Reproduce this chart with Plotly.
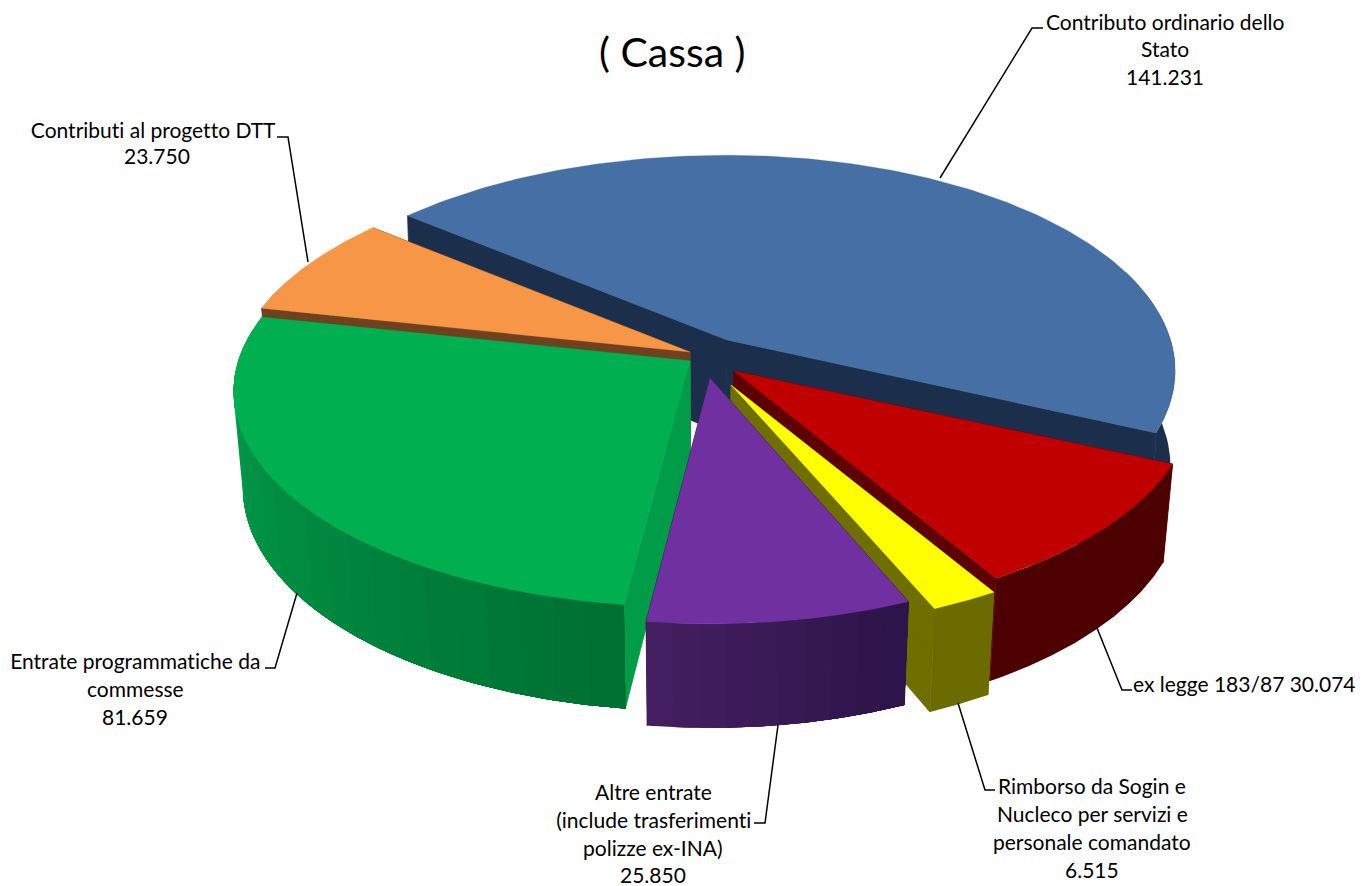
import numpy as np
import plotly.graph_objects as go

# ---- data ----
categories = ["Contributo ordinario dello Stato", "ex legge 183/87", "Rimborso da Sogin e Nucleco per servizi e personale comandato",
              "Altre entrate (include trasferimenti polizze ex-INA)", "Entrate programmatiche da commesse", "Contributi al progetto DTT"]
values = [141231, 30074, 6515, 25850, 81659, 23750]
top_colors = ["#466FA6", "#C00000", "#FFFF00", "#7030A0", "#00B050", "#F79646"]
wall_left = ["#1B2F4D", "#4D0000", "#6B6B00", "#431E60", "#00A04C", "#6F4120"]
wall_right = ["#1B2F4D", "#4D0000", "#6B6B00", "#2B1348", "#006E31", "#6F4120"]
face_colors = ["#1B2F4D", "#5E0000", "#6F6F00", "#2B1348", "#009C48", "#6F4120"]
strips = [1, 1, 1, 10, 24, 1]
apex_x = [727, 734, 731, 710, 690, 690]
apex_y = [340, 371, 385, 378, 361, 352]
rx_right = [0.975, 0.997, 1.0, 0.975, 1.0, 1.0]
rx_left = [1.0, 1.0, 1.0, 0.96, 0.993, 0.993]
bottom_scale = [0.99, 0.98, 0.98, 0.98, 0.98, 0.98]
draw_order = [0, 5, 1, 2, 4, 3]

# ---- projection parameters ----
START_DEG = -50.0
RX, AY, B = 455.0, 211.0, 0.142
CX = 700.0


def top_pt(i, th):
    s, c = np.sin(th), np.cos(th)
    d = 1 + B * c
    k = np.where(s > 0, rx_right[i], rx_left[i])
    return apex_x[i] + k * RX * s / d, apex_y[i] - AY * c / d


def lower(i, x, y, c):
    return CX + (x - CX) * bottom_scale[i], y + 95 - 9 * c


def mix(a, b, t):
    ca = [int(a[k:k + 2], 16) for k in (1, 3, 5)]
    cb = [int(b[k:k + 2], 16) for k in (1, 3, 5)]
    return "#%02X%02X%02X" % tuple(round(p + (q - p) * t) for p, q in zip(ca, cb))


fig = go.Figure()


def poly(xs, ys, color, width=0.8):
    fig.add_trace(go.Scatter(x=list(xs), y=list(ys), mode="lines", fill="toself", fillcolor=color,
                             line=dict(color=color, width=width), hoverinfo="skip", showlegend=False))


total = sum(values)
edges = np.radians(START_DEG + np.concatenate([[0], np.cumsum(values)]) / total * 360)

for i in draw_order:
    t0, t1 = edges[i], edges[i + 1]
    ax, ay = apex_x[i], apex_y[i]
    bx, by = lower(i, ax, ay, 0)
    # radial faces
    for th in (t1, t0):
        x, y = top_pt(i, th)
        xb, yb = lower(i, x, y, np.cos(th))
        poly([ax, x, xb, bx, ax], [ay, y, yb, by, ay], face_colors[i])
    # outer wall: each band runs to the slice's far end, the next band paints over it (no seams)
    bounds = np.linspace(t1, t0, strips[i] + 1)
    for k in range(strips[i]):
        th = np.linspace(bounds[k], t0, 120)
        th = th[np.cos(th) < 0.35]
        if len(th) < 2:
            continue
        xt, yt = top_pt(i, th)
        xb, yb = lower(i, xt, yt, np.cos(th))
        col = mix(wall_left[i], wall_right[i], ((k + 0.5) / strips[i]) ** 1.3)
        poly(np.r_[xt, xb[::-1], xt[0]], np.r_[yt, yb[::-1], yt[0]], col, width=0)
    # top face
    th = np.linspace(t0, t1, 160)
    xt, yt = top_pt(i, th)
    poly(np.r_[ax, xt, ax], np.r_[ay, yt, ay], top_colors[i], width=0.3)

# ---- leader lines ----
leaders = [
    ([940, 1032, 1043], [178, 28, 28]),
    ([308, 288, 277], [262, 137, 137]),
    ([297, 275, 265], [593, 668, 668]),
    ([1097, 1122, 1132], [628, 690, 690]),
    ([958, 985, 995], [703, 790, 790]),
    ([778, 765, 754], [725, 823, 823]),
]
for lx, ly in leaders:
    fig.add_trace(go.Scatter(x=lx, y=ly, mode="lines", line=dict(color="#000000", width=1.5),
                             hoverinfo="skip", showlegend=False))

# ---- text ----
FONT = "Lato"
label_lines = [
    ("Contributo ordinario dello", 1165, 21), ("Stato", 1165, 48), ("141.231", 1165, 76),
    ("Contributi al progetto DTT", 153, 129), ("23.750", 157, 155),
    ("Entrate programmatiche da", 135, 660), ("commesse", 135, 688), ("81.659", 135, 716),
    ("ex legge 183/87 30.074", 1244, 683),
    ("Rimborso da Sogin e", 1092, 785), ("Nucleco per servizi e", 1092, 813),
    ("personale comandato", 1092, 841), ("6.515", 1092, 869),
    ("Altre entrate", 653, 791), ("(include trasferimenti", 653, 819),
    ("polizze ex-INA)", 653, 847), ("25.850", 653, 874),
]
annots = [dict(x=x, y=y, text=t, showarrow=False, xanchor="center", yanchor="middle",
               font=dict(family=FONT, size=21, color="#000000")) for t, x, y in label_lines]
annots.append(dict(x=672, y=51, text="( Cassa )", showarrow=False, xanchor="center", yanchor="middle",
                   font=dict(family=FONT, size=41, color="#000000")))

fig.update_layout(
    width=1364, height=886, margin=dict(l=0, r=0, t=0, b=0),
    paper_bgcolor="#FFFFFF", plot_bgcolor="#FFFFFF", showlegend=False, annotations=annots,
    xaxis=dict(range=[0, 1364], visible=False, fixedrange=True),
    yaxis=dict(range=[886, 0], visible=False, fixedrange=True),
)
post = """document.body.style.margin='0';
var s=document.createElement('style');
s.textContent='svg text{font-variant-ligatures:none !important;font-feature-settings:"liga" 0,"clig" 0,"dlig" 0 !important;text-rendering:optimizeSpeed !important;}';
document.head.appendChild(s);"""
fig.write_html("out.html", config={"displayModeBar": False}, post_script=post)
